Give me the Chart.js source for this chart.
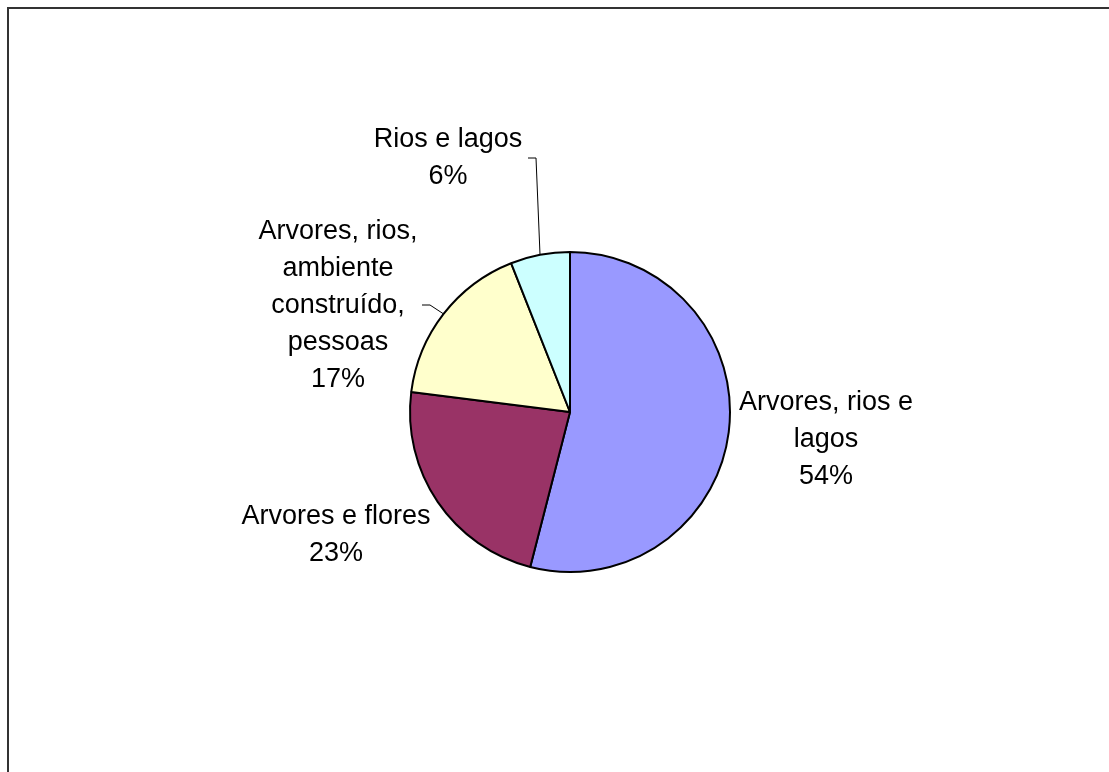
<!DOCTYPE html>
<html>
<head>
<meta charset="utf-8">
<script src="https://cdn.jsdelivr.net/npm/chart.js@4.4.0/dist/chart.umd.min.js"></script>
<style>
  html, body { margin: 0; padding: 0; background: #fff; overflow: hidden; }
  #wrap { position: relative; width: 1109px; height: 772px; }
  #frame {
    position: absolute; left: 7px; top: 7px; width: 1200px; height: 900px;
    border: 2px solid #333; box-sizing: border-box;
  }
  canvas { position: absolute; left: 0; top: 0; }
</style>
</head>
<body>
<div id="wrap">
  <div id="frame"></div>
  <canvas id="pie" width="1109" height="772"></canvas>
</div>
<script>
// data
const categories = [
  ['Arvores, rios e', 'lagos'],
  ['Arvores e flores'],
  ['Arvores, rios,', 'ambiente', 'construído,', 'pessoas'],
  ['Rios e lagos']
];
const values = [54, 23, 17, 6];
const colors = ['#9999FF', '#993366', '#FFFFCC', '#CCFFFF'];

// where each label sits, relative to the pie centre (centre x, first baseline)
const labelOffsets = [[256, -2], [-234, 112], [-232, -173], [-122, -265]];
// elbow of the leader line (only for the small slices), relative to centre
const leaderElbows = [null, null, [-140, -107], [-34, -254]];

const lineHeight = 37;

const labelPlugin = {
  id: 'sliceLabels',
  afterDatasetsDraw(chart) {
    const ctx = chart.ctx;
    const meta = chart.getDatasetMeta(0);
    const total = values.reduce((a, b) => a + b, 0);
    ctx.save();
    ctx.font = '27px "Liberation Sans", Arial, sans-serif';
    ctx.fillStyle = '#000';
    ctx.textAlign = 'center';
    ctx.textBaseline = 'alphabetic';

    meta.data.forEach((arc, i) => {
      const cx = arc.x, cy = arc.y;
      const lines = categories[i].concat([Math.round(values[i] / total * 100) + '%']);
      const lx = cx + labelOffsets[i][0];
      const ly = cy + labelOffsets[i][1];
      lines.forEach((t, j) => ctx.fillText(t, lx, ly + j * lineHeight));

      if (leaderElbows[i]) {
        const mid = (arc.startAngle + arc.endAngle) / 2;
        const r = arc.outerRadius;
        const ex = cx + leaderElbows[i][0], ey = cy + leaderElbows[i][1];
        ctx.beginPath();
        ctx.strokeStyle = '#000';
        ctx.lineWidth = 1;
        ctx.moveTo(cx + Math.cos(mid) * r, cy + Math.sin(mid) * r);
        ctx.lineTo(ex, ey);
        ctx.lineTo(ex - 8, ey);
        ctx.stroke();
      }
    });
    ctx.restore();
  }
};

new Chart(document.getElementById('pie'), {
  type: 'pie',
  data: {
    labels: categories,
    datasets: [{
      data: values,
      backgroundColor: colors,
      borderColor: '#000',
      borderWidth: 2
    }]
  },
  options: {
    responsive: false,
    animation: false,
    layout: { padding: { left: 409, right: 378, top: 251, bottom: 199 } },
    plugins: {
      legend: { display: false },
      tooltip: { enabled: false }
    }
  },
  plugins: [labelPlugin]
});
</script>
</body>
</html>
